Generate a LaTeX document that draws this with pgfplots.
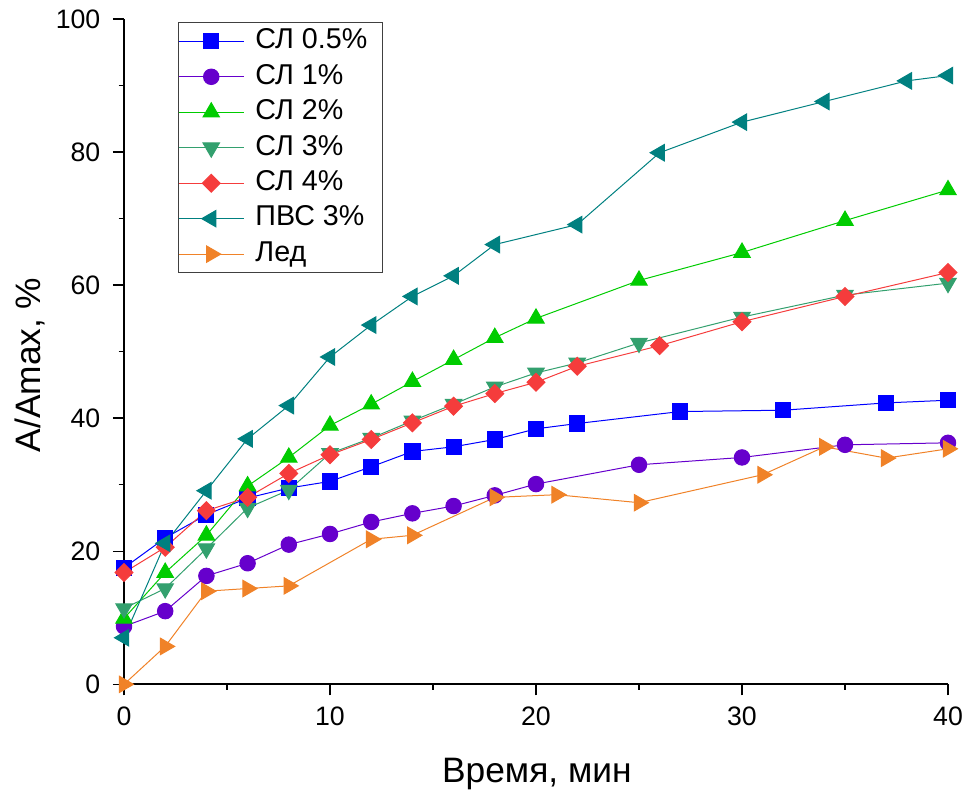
\documentclass[border=0pt]{standalone}
\usepackage{fontspec}
\setmainfont{Liberation Sans}
\usepackage{pgfplots}
\pgfplotsset{compat=1.18}
\definecolor{cBlue}{RGB}{0,0,255}
\definecolor{cPurple}{RGB}{102,0,204}
\definecolor{cGreen}{RGB}{0,204,0}
\definecolor{cSea}{RGB}{51,160,110}
\definecolor{cRed}{RGB}{245,60,60}
\definecolor{cTeal}{RGB}{0,128,128}
\definecolor{cOrange}{RGB}{240,130,40}
\begin{document}
\begin{tikzpicture}
\begin{axis}[
  scale only axis, width=618pt, height=499pt,
  xmin=0, xmax=40, ymin=0, ymax=100,
  axis x line*=bottom, axis y line*=left,
  xtick={0,10,20,30,40}, minor xtick={5,15,25,35},
  ytick={0,20,40,60,80,100}, minor ytick={10,30,50,70,90},
  tick align=outside,
  major tick length=8.25pt, minor tick length=4pt,
  every tick/.style={black, line width=1.1pt},
  axis line style={line width=1.3pt},
  tick label style={font=\fontsize{20}{23}\selectfont},
  yticklabel style={xshift=-6pt},
  xticklabel style={yshift=-5pt},
  /pgf/number format/assume math mode=true,
  label style={font=\fontsize{26.5}{30}\selectfont},
  xlabel={Время, мин}, ylabel={A/Amax, \%},
  xlabel style={at={(axis description cs:0.501,-0.148)}, anchor=base},
  ylabel style={at={(axis description cs:-0.114,0.48)}, anchor=center},
  clip=false,
  every axis plot/.append style={line width=0.75pt},
  legend cell align=left,
  legend style={at={(0.0655,0.9955)}, anchor=north west, draw=black!75, line width=0.8pt,
    font=\fontsize{21.5}{25}\selectfont, row sep=0pt, inner xsep=0pt, inner ysep=0.8pt,
    nodes={inner xsep=3.5pt, inner ysep=3.3pt, text height=15.5pt, text depth=4.5pt}},
  legend image code/.code={\draw[mark repeat=2,mark phase=2] plot coordinates {(0cm,0cm) (0.85cm,0cm) (1.7cm,0cm)};\path (1.88cm,0cm);},
]
\addplot[color=cBlue, mark=square*, mark size=5.7pt] coordinates {
(0,17.5)(2,22)(4,25.5)(6,28)(8,29.5)(10,30.5)(12,32.7)(14,35)(16,35.7)(18,36.8)(20,38.4)(22,39.2)(27,41)(32,41.2)(37,42.3)(40,42.7)};
\addlegendentry{СЛ 0.5\%\hspace*{8pt}}
\addplot[color=cPurple, mark=*, mark size=5.8pt] coordinates {
(0,8.7)(2,11)(4,16.3)(6,18.2)(8,21)(10,22.6)(12,24.4)(14,25.7)(16,26.8)(18,28.4)(20,30.1)(25,33)(30,34.1)(35,36)(40,36.3)};
\addlegendentry{СЛ 1\%}
\addplot[color=cGreen, mark=triangle*, mark size=7.1pt] coordinates {
(0,9.9)(2,16.8)(4,22.4)(6,29.8)(8,34.1)(10,38.9)(12,42.1)(14,45.5)(16,48.8)(18,52.1)(20,55)(25,60.7)(30,64.9)(35,69.7)(40,74.3)};
\addlegendentry{СЛ 2\%}
\addplot[color=cSea, mark=triangle*, mark size=7.1pt, mark options={rotate=180}] coordinates {
(0,11.4)(2,14.4)(4,20.4)(6,26.5)(8,29.2)(10,34.7)(12,37)(14,39.6)(16,42.1)(18,44.7)(20,46.8)(22,48.3)(25,51.3)(30,55.2)(35,58.5)(40,60.3)};
\addlegendentry{СЛ 3\%}
\addplot[color=cRed, mark=diamond*, mark size=6.7pt, mark options={xscale=1.33}] coordinates {
(0,16.8)(2,20.6)(4,26.1)(6,28.1)(8,31.7)(10,34.5)(12,36.8)(14,39.3)(16,41.8)(18,43.7)(20,45.4)(22,47.8)(26,50.9)(30,54.5)(35,58.3)(40,61.9)};
\addlegendentry{СЛ 4\%}
\addplot[color=cTeal, mark=triangle*, mark size=7.1pt, mark options={rotate=90}] coordinates {
(0,7)(2,21.2)(4,29.1)(6,36.9)(8,41.9)(10,49.2)(12,54)(14,58.3)(16,61.4)(18,66.1)(22,69.1)(26,79.9)(30,84.5)(34,87.6)(38,90.7)(40,91.5)};
\addlegendentry{ПВС 3\%}
\addplot[color=cOrange, mark=triangle*, mark size=7.1pt, mark options={rotate=-90}] coordinates {
(0,0)(2,5.7)(4,14)(6,14.4)(8,14.8)(12,21.8)(14,22.4)(18,28.1)(21,28.5)(25,27.3)(31,31.5)(34,35.7)(37,34)(40,35.4)};
\addlegendentry{Лед}
\end{axis}
\pgfresetboundingbox
\path ([shift={(-93pt,-81pt)}]current axis.south west) rectangle ([shift={(15pt,14.25pt)}]current axis.north east);
\end{tikzpicture}
\end{document}
